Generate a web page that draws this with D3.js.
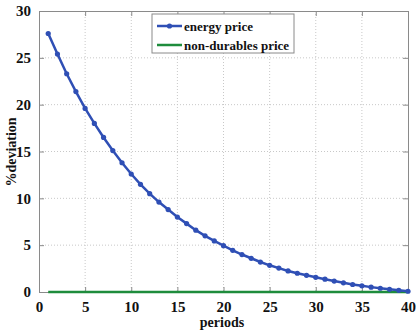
<!DOCTYPE html>
<html>
<head>
<meta charset="utf-8">
<script src="https://cdn.jsdelivr.net/npm/d3@7"></script>
<style>
  body { margin: 0; background: #fff; }
</style>
</head>
<body>
<script>
// data
const periods = d3.range(1, 41);
const energyPrice = [27.6, 25.4, 23.3, 21.4, 19.6, 18.0, 16.5, 15.1, 13.8, 12.6,
  11.5, 10.5, 9.6, 8.8, 8.0, 7.3, 6.6, 6.0, 5.45, 4.95,
  4.45, 4.0, 3.6, 3.2, 2.85, 2.55, 2.25, 2.0, 1.78, 1.57,
  1.37, 1.17, 0.98, 0.8, 0.66, 0.52, 0.4, 0.29, 0.18, 0.08];
const nonDurablesPrice = periods.map(() => 0);
const xTicks = [0, 5, 10, 15, 20, 25, 30, 35, 40];
const yTicks = [0, 5, 10, 15, 20, 25, 30];
const seriesNames = ['energy price', 'non-durables price'];

const FONT = 'Liberation Serif';
const margin = {top: 11, right: 8, bottom: 38, left: 39};
const W = 416, H = 330;
const width = W - margin.left - margin.right;
const height = H - margin.top - margin.bottom;

const x = d3.scaleLinear().domain([0, 40]).range([0, width]);
const y = d3.scaleLinear().domain([0, 30]).range([height, 0]);

const svg = d3.select('body').append('svg')
  .attr('width', W).attr('height', H);
const g = svg.append('g')
  .attr('transform', 'translate(' + margin.left + ',' + margin.top + ')');

// grid
g.append('g').selectAll('line').data(xTicks.slice(1, -1)).join('line')
  .attr('x1', d => x(d)).attr('x2', d => x(d))
  .attr('y1', 0).attr('y2', height)
  .attr('stroke', '#c8c8c8').attr('stroke-dasharray', '1,2');
g.append('g').selectAll('line').data(yTicks.slice(1, -1)).join('line')
  .attr('y1', d => y(d)).attr('y2', d => y(d))
  .attr('x1', 0).attr('x2', width)
  .attr('stroke', '#c8c8c8').attr('stroke-dasharray', '1,2');

// axes, ticks inward on all four sides
const xAxis = d3.axisBottom(x).tickValues(xTicks).tickSizeInner(-5).tickSizeOuter(0).tickPadding(9);
const yAxis = d3.axisLeft(y).tickValues(yTicks).tickSizeInner(-5).tickSizeOuter(0).tickPadding(8);
const gx = g.append('g').attr('transform', 'translate(0,' + height + ')').call(xAxis);
const gy = g.append('g').call(yAxis);
g.append('g').call(d3.axisTop(x).tickValues(xTicks).tickSizeInner(-5).tickSizeOuter(0).tickFormat(''));
g.append('g').attr('transform', 'translate(' + width + ',0)')
  .call(d3.axisRight(y).tickValues(yTicks).tickSizeInner(-5).tickSizeOuter(0).tickFormat(''));
g.selectAll('.domain').attr('stroke', '#8a8a8a');
g.selectAll('.tick line').attr('stroke', '#8a8a8a');
gx.attr('font-family', FONT).attr('font-size', 15).attr('font-weight', 'bold');
gy.attr('font-family', FONT).attr('font-size', 15).attr('font-weight', 'bold');
g.selectAll('.tick text').attr('fill', '#111');

// lines
const line = d3.line().x((d, i) => x(periods[i])).y(d => y(d));
g.append('path').datum(nonDurablesPrice)
  .attr('d', line).attr('fill', 'none')
  .attr('stroke', '#1e8c3c').attr('stroke-width', 2.5);
g.append('path').datum(energyPrice)
  .attr('d', line).attr('fill', 'none')
  .attr('stroke', '#2f4fb5').attr('stroke-width', 2.5);
g.append('g').selectAll('circle').data(energyPrice).join('circle')
  .attr('cx', (d, i) => x(periods[i])).attr('cy', d => y(d))
  .attr('r', 2.6).attr('fill', '#2f4fb5');

// labels
svg.append('text').attr('x', 222).attr('y', 327)
  .attr('text-anchor', 'middle').attr('font-family', FONT).attr('font-weight', 'bold')
  .attr('font-size', 14).attr('fill', '#111').text('periods');
svg.append('text').attr('transform', 'translate(16,152) rotate(-90)')
  .attr('text-anchor', 'middle').attr('font-family', FONT).attr('font-weight', 'bold')
  .attr('font-size', 14).attr('fill', '#111').text('%deviation');

// legend
const lg = svg.append('g').attr('transform', 'translate(152,14)');
lg.append('rect').attr('width', 142).attr('height', 39)
  .attr('fill', '#fff').attr('stroke', '#8a8a8a');
const colors = ['#2f4fb5', '#1e8c3c'];
seriesNames.forEach((name, i) => {
  const yy = 12 + i * 19;
  lg.append('line').attr('x1', 5).attr('x2', 30).attr('y1', yy).attr('y2', yy)
    .attr('stroke', colors[i]).attr('stroke-width', 2.5);
  if (i === 0) lg.append('circle').attr('cx', 17.5).attr('cy', yy).attr('r', 2.6).attr('fill', colors[i]);
  lg.append('text').attr('x', 32).attr('y', yy + 4.5)
    .attr('font-family', FONT).attr('font-weight', 'bold')
    .attr('font-size', 13).attr('fill', '#111').text(name);
});
</script>
</body>
</html>
